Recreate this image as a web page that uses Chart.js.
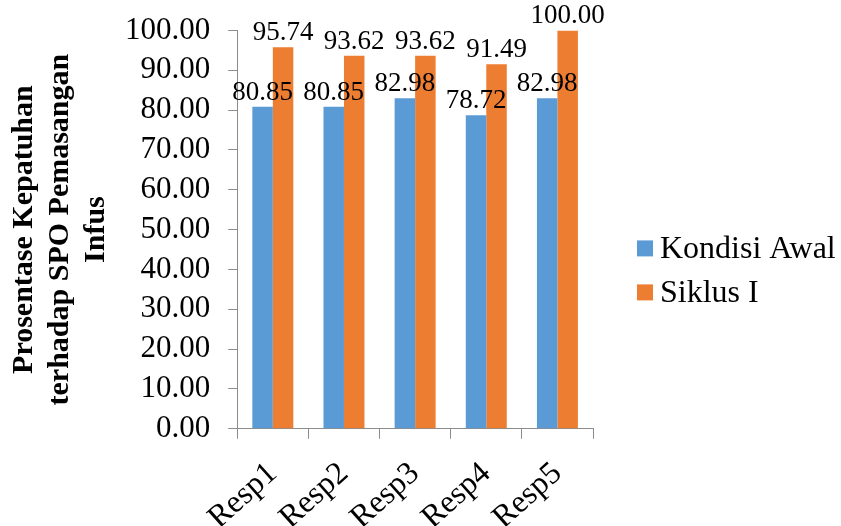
<!DOCTYPE html>
<html>
<head>
<meta charset="utf-8">
<script src="https://cdn.jsdelivr.net/npm/chart.js@4.4.1/dist/chart.umd.min.js"></script>
<style>
  html, body { margin: 0; padding: 0; background: #fff; }
  #wrap { width: 841px; height: 526px; }
</style>
</head>
<body>
<div id="wrap"><canvas id="grafico"></canvas></div>
<script>
const categorias = ['Resp1', 'Resp2', 'Resp3', 'Resp4', 'Resp5'];
const kondisiAwal = [80.85, 80.85, 82.98, 78.72, 82.98];
const siklusI = [95.74, 93.62, 93.62, 91.49, 100.00];
const nombresSeries = ['Kondisi Awal', 'Siklus I'];
const tituloY = ['Prosentase Kepatuhan', 'terhadap SPO Pemasangan', 'Infus'];

const serif = "'Liberation Serif', 'Times New Roman', serif";
const gris = '#8c8c8c';

// etiquetas de valor encima de cada barra
const etiquetas = {
    id: 'etiquetas',
    afterDatasetsDraw(chart) {
        const ctx = chart.ctx;
        ctx.save();
        ctx.font = '27px ' + serif;
        ctx.fillStyle = '#000';
        ctx.textAlign = 'center';
        ctx.textBaseline = 'alphabetic';
        chart.data.datasets.forEach((ds, i) => {
            chart.getDatasetMeta(i).data.forEach((bar, j) => {
                ctx.fillText(ds.data[j].toFixed(2), bar.x, bar.y - 7);
            });
        });
        ctx.restore();
    }
};

// leyenda a la derecha (dibujada a mano para controlar el hueco)
const leyenda = {
    id: 'leyenda',
    afterDraw(chart) {
        const ctx = chart.ctx;
        const area = chart.chartArea;
        ctx.save();
        ctx.font = '32px ' + serif;
        ctx.textBaseline = 'middle';
        ctx.textAlign = 'left';
        chart.data.datasets.forEach((ds, i) => {
            const x = area.right + 44;
            const y = area.top + 218 + i * 44;
            ctx.fillStyle = ds.backgroundColor;
            ctx.fillRect(x, y - 8, 16, 16);
            ctx.fillStyle = '#000';
            ctx.fillText(ds.label, x + 23, y + 1);
        });
        ctx.restore();
    }
};

new Chart(document.getElementById('grafico').getContext('2d'), {
    type: 'bar',
    data: {
        labels: categorias,
        datasets: [{
            label: nombresSeries[0],
            data: kondisiAwal,
            backgroundColor: '#5B9BD5',
            categoryPercentage: 0.576,
            barPercentage: 1
        }, {
            label: nombresSeries[1],
            data: siklusI,
            backgroundColor: '#ED7D31',
            categoryPercentage: 0.576,
            barPercentage: 1
        }]
    },
    options: {
        responsive: true,
        maintainAspectRatio: false,
        animation: false,
        layout: { padding: { top: 0, left: 6, right: 248, bottom: -27 } },
        plugins: {
            tooltip: { enabled: false },
            legend: { display: false }
        },
        scales: {
            x: {
                grid: { display: true, drawOnChartArea: false, drawTicks: true, tickLength: 10, color: gris, offset: true },
                border: { display: true, color: gris },
                ticks: {
                    font: { family: serif, size: 32, lineHeight: 0.7 },
                    color: '#000',
                    minRotation: 42,
                    maxRotation: 42,
                    padding: 22
                }
            },
            y: {
                min: 0,
                max: 100,
                grid: { display: true, drawOnChartArea: false, drawTicks: true, tickLength: 9, color: gris },
                border: { display: true, color: gris },
                ticks: {
                    stepSize: 10,
                    autoSkip: false,
                    font: { family: serif, size: 31, lineHeight: 0.8 },
                    color: '#000',
                    padding: 18,
                    callback: v => v.toFixed(2)
                },
                title: {
                    display: true,
                    text: tituloY,
                    font: { family: serif, size: 30, weight: 'bold', lineHeight: 1.2 },
                    color: '#000',
                    padding: { top: 0, bottom: -7 }
                }
            }
        }
    },
    plugins: [etiquetas, leyenda]
});
</script>
</body>
</html>
